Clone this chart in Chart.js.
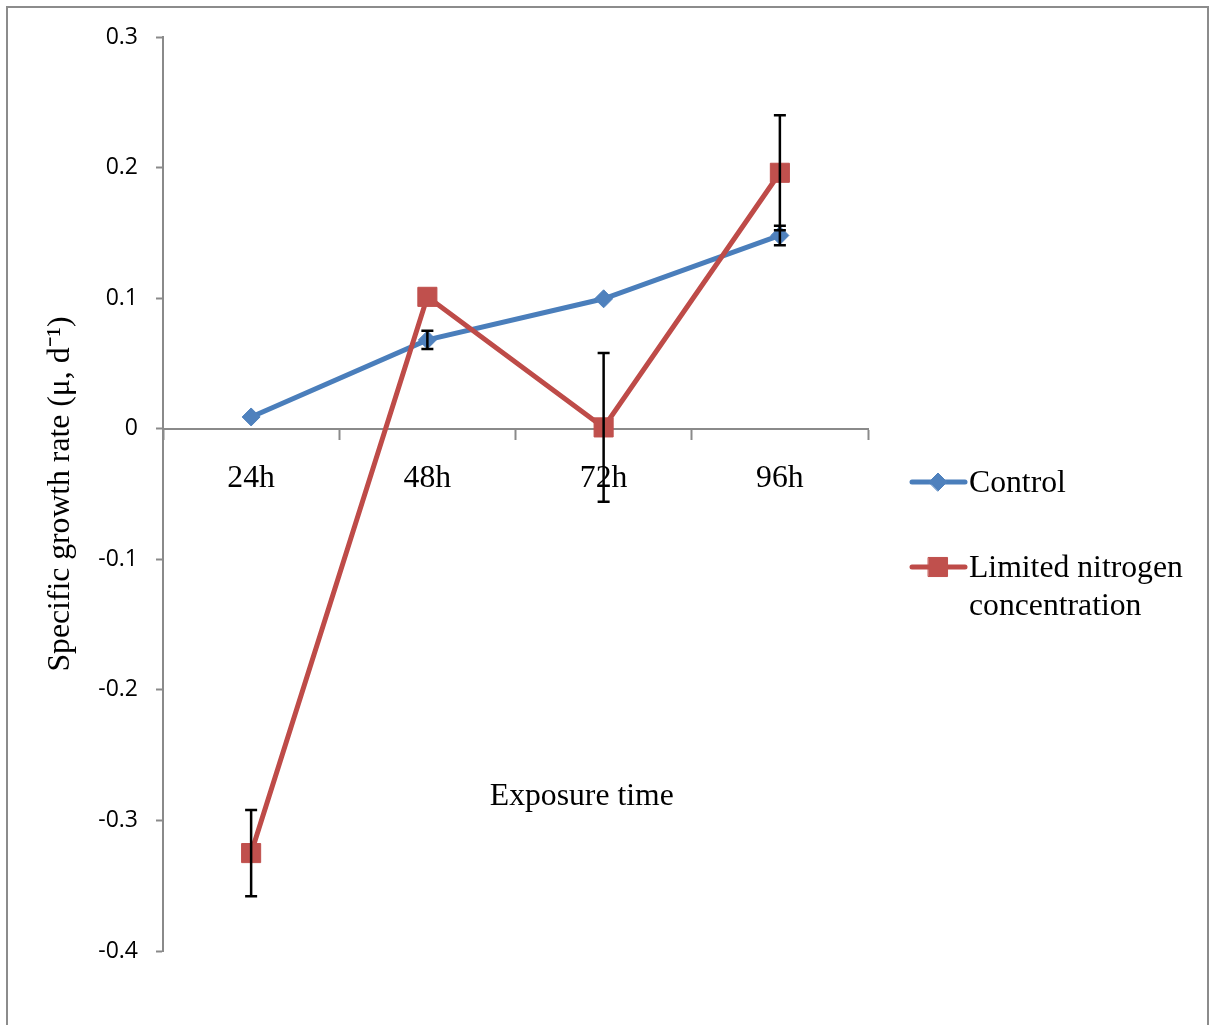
<!DOCTYPE html>
<html>
<head>
<meta charset="utf-8">
<script src="https://cdn.jsdelivr.net/npm/chart.js@4.4.0/dist/chart.umd.min.js"></script>
<style>
  html, body { margin: 0; padding: 0; background: #fff; }
  #wrap { position: relative; width: 1212px; height: 1025px; overflow: hidden; }
  #frame { position: absolute; left: 6px; top: 6px; width: 1199px; height: 1100px; border: 2px solid #8c8c8c; }
  canvas { position: absolute; left: 0; top: 0; }
</style>
</head>
<body>
<div id="wrap">
  <div id="frame"></div>
  <canvas id="growthChart" width="1212" height="1025"></canvas>
</div>
<script>
// exposure time categories
const exposureTimes = ['24h', '48h', '72h', '96h'];

// specific growth rate (mu, d-1) and error bar half-heights
const controlRate = [0.009, 0.068, 0.0995, 0.148];
const controlErr = [0, 0.007, 0, 0.0075];
const limitedRate = [-0.325, 0.101, 0.001, 0.196];
const limitedErr = [0.033, 0, 0.057, 0.044];

const yTicks = [0.3, 0.2, 0.1, 0, -0.1, -0.2, -0.3, -0.4];

const serif = 'Liberation Serif';
const axisGray = '#8a8a8a';

// black error bars, drawn over the series
const errorBars = {
    id: 'errorBars',
    afterDatasetsDraw(chart) {
        const {ctx, scales: {x, y}} = chart;
        ctx.save();
        ctx.strokeStyle = '#000';
        ctx.lineWidth = 2.5;
        chart.data.datasets.forEach(ds => {
            ds.errors.forEach((e, i) => {
                if (!e) return;
                const px = x.getPixelForValue(i);
                const top = y.getPixelForValue(ds.data[i] + e);
                const bot = y.getPixelForValue(ds.data[i] - e);
                ctx.beginPath();
                ctx.moveTo(px, top); ctx.lineTo(px, bot);
                ctx.moveTo(px - 6, top); ctx.lineTo(px + 6, top);
                ctx.moveTo(px - 6, bot); ctx.lineTo(px + 6, bot);
                ctx.stroke();
            });
        });
        ctx.restore();
    }
};

// the stray x title and the legend on the right
const extras = {
    id: 'extras',
    afterDraw(chart) {
        const {ctx, chartArea, scales: {y}} = chart;
        ctx.save();
        ctx.fillStyle = '#000';
        ctx.font = '31.7px "' + serif + '"';
        ctx.textAlign = 'center';
        ctx.textBaseline = 'middle';
        ctx.fillText('Exposure time', chartArea.left + 0.594 * (chartArea.right - chartArea.left), y.getPixelForValue(-0.282));

        const items = [
            {ds: chart.data.datasets[0], lines: ['Control'], y: 482},
            {ds: chart.data.datasets[1], lines: ['Limited nitrogen', 'concentration'], y: 567}
        ];
        items.forEach(it => {
            ctx.strokeStyle = it.ds.borderColor;
            ctx.lineWidth = 5;
            ctx.lineCap = 'round';
            ctx.beginPath();
            ctx.moveTo(912, it.y);
            ctx.lineTo(965, it.y);
            ctx.stroke();
            ctx.fillStyle = it.ds.pointBackgroundColor;
            ctx.strokeStyle = it.ds.pointBackgroundColor;
            ctx.lineWidth = 1;
            Chart.helpers.drawPoint(ctx, {pointStyle: it.ds.pointStyle, radius: it.ds.pointRadius, rotation: 0, borderWidth: 1}, 938, it.y);
            ctx.fillStyle = '#000';
            ctx.textAlign = 'left';
            it.lines.forEach((t, k) => ctx.fillText(t, 969, it.y + 2 + k * 38));
        });
        ctx.restore();
    }
};

const ctx1 = document.getElementById('growthChart').getContext('2d');
const growthChart = new Chart(ctx1, {
    type: 'line',
    data: {
        labels: exposureTimes,
        datasets: [{
            label: 'Control',
            data: controlRate,
            errors: controlErr,
            borderColor: '#4a7ebb',
            borderWidth: 5,
            pointStyle: 'rectRot',
            pointRadius: 9,
            pointBackgroundColor: '#4f81bd',
            pointBorderColor: '#4f81bd',
            pointBorderWidth: 1,
            tension: 0,
            order: 1
        }, {
            label: 'Limited nitrogen concentration',
            data: limitedRate,
            errors: limitedErr,
            borderColor: '#be4b48',
            borderWidth: 5,
            pointStyle: 'rect',
            pointRadius: 13.5,
            pointBackgroundColor: '#c0504d',
            pointBorderColor: '#c0504d',
            pointBorderWidth: 1,
            tension: 0,
            order: 0
        }]
    },
    options: {
        responsive: false,
        animation: false,
        devicePixelRatio: 1,
        layout: {padding: {left: 0, top: 37, right: 344, bottom: 74}},
        plugins: {legend: {display: false}, tooltip: {enabled: false}},
        scales: {
            x: {
                position: {y: 0},
                offset: true,
                grid: {offset: true, drawOnChartArea: false, tickLength: 10, color: axisGray, tickWidth: 2},
                border: {color: axisGray, width: 2},
                ticks: {color: '#000', font: {family: serif, size: 31.7}, padding: 21, maxRotation: 0, autoSkip: false}
            },
            y: {
                min: Math.min(...yTicks),
                max: Math.max(...yTicks),
                afterFit: s => { s.width = 163; },
                grid: {drawOnChartArea: false, tickLength: 7, color: axisGray, tickWidth: 2},
                border: {color: axisGray, width: 2},
                ticks: {
                    stepSize: 0.1,
                    color: '#000',
                    padding: 18,
                    font: {family: 'Open Sans', size: 23},
                    callback: v => String(Number(v.toFixed(1)))
                },
                title: {
                    display: true,
                    text: 'Specific growth rate (\u03bc, d\u207b\u00b9)',
                    color: '#000',
                    font: {family: serif, size: 31.7},
                    padding: {top: 42, bottom: 0}
                }
            }
        }
    },
    plugins: [errorBars, extras]
});
</script>
</body>
</html>
